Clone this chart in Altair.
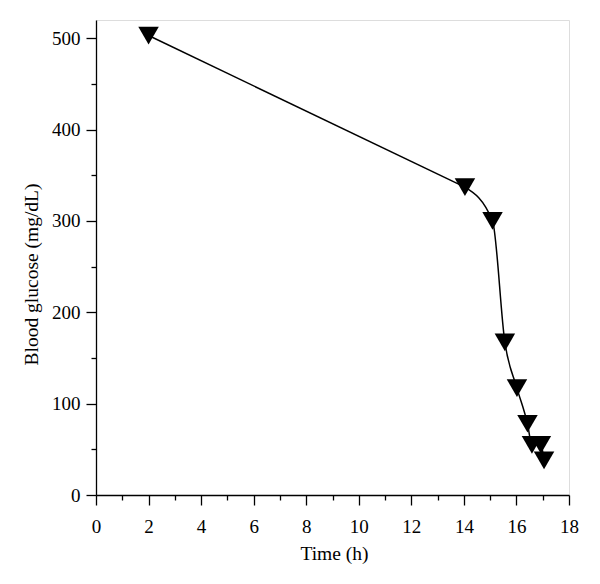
import altair as alt
import pandas as pd

time_h = [2.0, 14.04, 15.09, 15.56, 16.02, 16.42, 16.59, 16.93, 17.05]
glucose = [503, 337, 300, 167, 117, 78, 55, 55, 38]

df = pd.DataFrame({"t": time_h, "g": glucose})
# first leg drawn straight, remaining points joined by a smooth curve
line_df = pd.concat([
    pd.DataFrame({"t": time_h[:2], "g": glucose[:2], "seg": "a"}),
    pd.DataFrame({"t": time_h[1:], "g": glucose[1:], "seg": "b"}),
])

FONT = "Liberation Serif"

x = alt.X("t:Q", scale=alt.Scale(domain=[0, 18], nice=False, zero=False),
          axis=alt.Axis(title="Time (h)", values=list(range(0, 19)),
                        labelExpr="datum.value % 2 ? '' : datum.label",
                        tickSize={"condition": {"test": "datum.value % 2 !== 0", "value": 5}, "value": 10},
                        grid=False, domainColor="black", tickColor="black", labelColor="black",
                        titleColor="black", labelFont=FONT, titleFont=FONT, labelFontSize=19,
                        titleFontSize=19.5, titleFontWeight="normal", labelPadding=12,
                        titleX=238, titleY=58, titleBaseline="middle", labelFlush=False,
                        domainWidth=1.3, tickWidth=1.3))
y = alt.Y("g:Q", scale=alt.Scale(domain=[0, 520], nice=False),
          axis=alt.Axis(title="Blood glucose (mg/dL)", values=list(range(0, 521, 50)),
                        labelExpr="datum.value % 100 ? '' : datum.label",
                        tickSize={"condition": {"test": "datum.value % 100 !== 0", "value": 5}, "value": 10},
                        grid=False, domainColor="black", tickColor="black", labelColor="black",
                        titleColor="black", labelFont=FONT, titleFont=FONT, labelFontSize=19,
                        titleFontSize=19.5, titleFontWeight="normal", labelPadding=6,
                        titleX=-65, titleY=254, titleAngle=-90, titleBaseline="middle",
                        titleAlign="center", labelFlush=False, domainWidth=1.3, tickWidth=1.3))

line = alt.Chart(line_df).mark_line(color="black", strokeWidth=1.5, interpolate="monotone").encode(
    x=x, y=y, detail="seg:N")
pts = alt.Chart(df).mark_point(shape="triangle-down", filled=True, color="black",
                               size=420, opacity=1).encode(x=x, y=y)

chart = (line + pts).properties(
    width=473, height=475,
    autosize=alt.AutoSizeParams(type="none"),
    padding={"left": 88, "top": 12, "right": 23, "bottom": 81},
).configure_view(stroke=None).configure(background="white")

chart.save("out.html", embed_options={"renderer": "svg", "actions": False})
